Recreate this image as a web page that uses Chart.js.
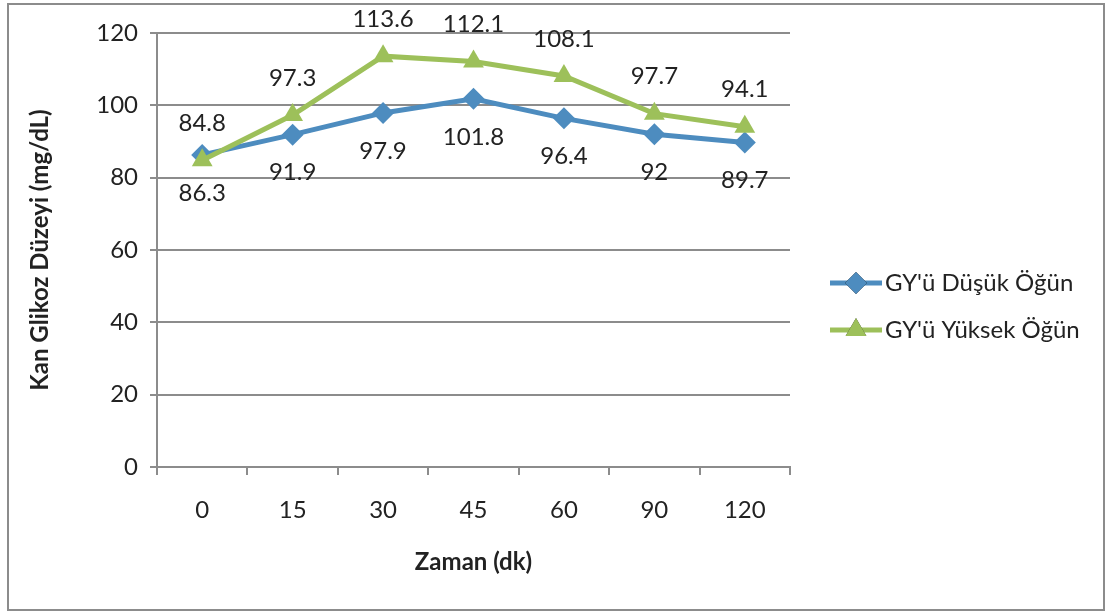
<!DOCTYPE html>
<html>
<head>
<meta charset="utf-8">
<script src="https://cdn.jsdelivr.net/npm/chart.js@4.4.1/dist/chart.umd.min.js"></script>
<style>
  body { margin: 0; background: #fff; }
  #wrap { position: relative; width: 1105px; height: 613px; }
  #frame {
    position: absolute; left: 7px; top: 3px; width: 1094px; height: 604px;
    border: 2px solid #8c8c8c; pointer-events: none;
  }
  canvas { position: absolute; left: 0; top: 0; }
</style>
</head>
<body>
<div id="wrap">
  <canvas id="chart" width="1105" height="613"></canvas>
  <div id="frame"></div>
</div>
<script>
const minutes = ["0", "15", "30", "45", "60", "90", "120"]
const lowGiMeal = [86.3, 91.9, 97.9, 101.8, 96.4, 92, 89.7]
const highGiMeal = [84.8, 97.3, 113.6, 112.1, 108.1, 97.7, 94.1]
const seriesNames = ["GY'ü Düşük Öğün", "GY'ü Yüksek Öğün"]

const BLUE = "#4d8cbf"
const GREEN = "#9dc05a"
const GRID = "#8c8c8c"
const FONT = "Lato, 'Open Sans', sans-serif"
const SIZE = 24

// value labels: green above the point, blue below
const valueLabels = {
  id: "valueLabels",
  afterDatasetsDraw(chart) {
    const ctx = chart.ctx
    ctx.save()
    ctx.font = `${SIZE}px ${FONT}`
    ctx.fillStyle = "#222"
    ctx.textAlign = "center"
    ctx.textBaseline = "middle"
    chart.data.datasets.forEach((ds, i) => {
      const meta = chart.getDatasetMeta(i)
      const shift = ds.labelSide === "above" ? -37 : 38
      meta.data.forEach((pt, j) => {
        ctx.fillText(String(ds.data[j]), pt.x, pt.y + shift)
      })
    })
    ctx.restore()
  },
}

// legend drawn as line + marker like the spreadsheet one
const sideLegend = {
  id: "sideLegend",
  afterDraw(chart) {
    const ctx = chart.ctx
    const rows = [
      { y: 283, ds: chart.data.datasets[0] },
      { y: 330, ds: chart.data.datasets[1] },
    ]
    ctx.save()
    rows.forEach(({ y, ds }) => {
      ctx.strokeStyle = ds.borderColor
      ctx.lineWidth = 5
      ctx.beginPath()
      ctx.moveTo(830, y)
      ctx.lineTo(882, y)
      ctx.stroke()
      Chart.helpers.drawPoint(ctx, {
        pointStyle: ds.pointStyle,
        radius: ds.pointRadius,
        borderWidth: 0,
      }, 856, y)
      ctx.fillStyle = ds.borderColor
      ctx.fill()
      ctx.fillStyle = "#222"
      ctx.font = `${SIZE}px ${FONT}`
      ctx.textAlign = "left"
      ctx.textBaseline = "middle"
      ctx.fillText(ds.label, 885, y)
    })
    ctx.restore()
  },
}

new Chart(document.getElementById("chart"), {
  type: "line",
  data: {
    labels: minutes,
    datasets: [
      {
        label: seriesNames[0],
        data: lowGiMeal,
        borderColor: BLUE,
        backgroundColor: BLUE,
        borderWidth: 5,
        pointStyle: "rectRot",
        pointRadius: 11,
        pointBorderWidth: 0,
        labelSide: "below",
        order: 1,
      },
      {
        label: seriesNames[1],
        data: highGiMeal,
        borderColor: GREEN,
        backgroundColor: GREEN,
        borderWidth: 5,
        pointStyle: "triangle",
        pointRadius: 12,
        pointBorderWidth: 0,
        labelSide: "above",
        order: 0,
      },
    ],
  },
  options: {
    responsive: false,
    animation: false,
    layout: { padding: { top: 33, right: 315, bottom: 0, left: 0 } },
    plugins: {
      legend: { display: false },
      tooltip: { enabled: false },
    },
    scales: {
      x: {
        offset: true,
        grid: {
          offset: true,
          drawOnChartArea: false,
          drawTicks: true,
          tickLength: 8,
          color: GRID,
          lineWidth: 2,
        },
        border: { color: GRID, width: 2 },
        ticks: { color: "#222", font: { family: FONT, size: SIZE }, padding: 21 },
        title: {
          display: true,
          text: "Zaman (dk)",
          color: "#222",
          font: { family: FONT, size: SIZE, weight: "bold" },
          padding: { top: 0, bottom: 36 },
        },
        afterFit: (scale) => { scale.height = 146 },
      },
      y: {
        min: 0,
        max: 120,
        ticks: { stepSize: 20, color: "#222", font: { family: FONT, size: SIZE }, padding: 12 },
        grid: { color: GRID, lineWidth: 2, tickLength: 7 },
        border: { color: GRID, width: 2 },
        title: {
          display: true,
          text: "Kan Glikoz Düzeyi (mg/dL)",
          color: "#222",
          font: { family: FONT, size: SIZE, weight: "bold" },
          padding: { top: 26, bottom: 0 },
        },
        afterFit: (scale) => { scale.width = 157 },
      },
    },
  },
  plugins: [valueLabels, sideLegend],
})
</script>
</body>
</html>
